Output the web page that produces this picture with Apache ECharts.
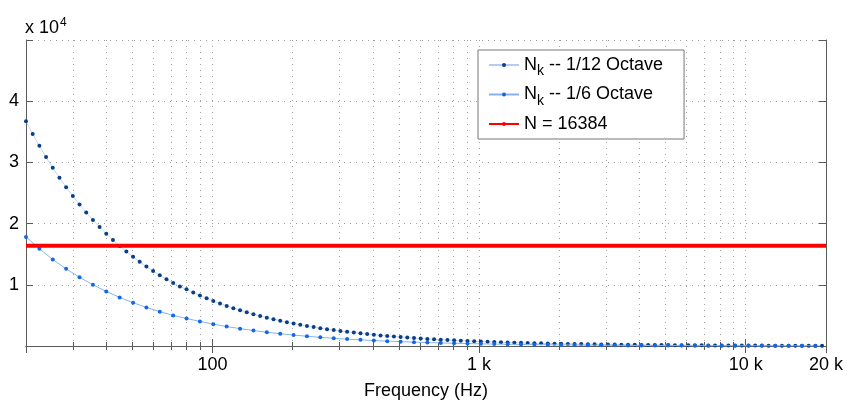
<!DOCTYPE html>
<html>
<head>
<meta charset="utf-8">
<script src="https://cdn.jsdelivr.net/npm/echarts@6/dist/echarts.min.js"></script>
<style>
  html, body { margin: 0; padding: 0; background: #fff; }
  #chart { width: 847px; height: 405px; }
</style>
</head>
<body>
<div id="chart"></div>
<script>
// Centre frequencies (Hz) of the 1/12-octave bands, 20 Hz .. 20 kHz
const freq12 = [
  20, 21.19, 22.45, 23.78, 25.2, 26.7, 28.28, 29.97, 31.75, 33.64, 35.64, 37.76,
  40, 42.38, 44.9, 47.57, 50.4, 53.39, 56.57, 59.93, 63.5, 67.27, 71.27, 75.51,
  80, 84.76, 89.8, 95.14, 100.79, 106.79, 113.14, 119.86, 126.99, 134.54, 142.54, 151.02,
  160, 169.51, 179.59, 190.27, 201.59, 213.57, 226.27, 239.73, 253.98, 269.09, 285.09, 302.04,
  320, 339.03, 359.19, 380.55, 403.17, 427.15, 452.55, 479.46, 507.97, 538.17, 570.18, 604.08,
  640, 678.06, 718.38, 761.09, 806.35, 854.3, 905.1, 958.92, 1015.9, 1076.3, 1140.4, 1208.2,
  1280, 1356.1, 1436.8, 1522.2, 1612.7, 1708.6, 1810.2, 1917.8, 2031.9, 2152.7, 2280.7, 2416.3,
  2560, 2712.2, 2873.5, 3044.4, 3225.4, 3417.2, 3620.4, 3835.7, 4063.7, 4305.4, 4561.4, 4832.6,
  5120, 5424.4, 5747, 6088.7, 6450.8, 6834.4, 7240.8, 7671.3, 8127.5, 8610.8, 9122.8, 9665.3,
  10240, 10849, 11494, 12177, 12902, 13669, 14482, 15343, 16255, 17222, 18245, 19331
];
// Window length N_k for each 1/12-octave band
const nk12 = [
  36709, 34650, 32704, 30869, 29136, 27501, 25958, 24501, 23125, 21828, 20602, 19446,
  18355, 17325, 16352, 15434, 14568, 13750, 12979, 12250, 11563, 10914, 10301, 9723,
  9270, 8750, 8259, 7795, 7358, 6945, 6555, 6187, 5840, 5512, 5203, 4911,
  4635, 4375, 4129, 3898, 3679, 3472, 3277, 3094, 2920, 2756, 2601, 2455,
  2318, 2188, 2065, 1949, 1839, 1736, 1639, 1547, 1460, 1378, 1301, 1228,
  1159, 1094, 1032, 974, 920, 868, 819, 773, 730, 689, 650, 614,
  579, 547, 516, 487, 460, 434, 410, 387, 365, 345, 325, 307,
  290, 273, 258, 244, 230, 217, 205, 193, 182, 172, 163, 153,
  145, 137, 129, 122, 115, 109, 102, 97, 91, 86, 81, 77,
  72, 68, 65, 61, 57, 54, 51, 48, 46, 43, 41, 38
];
// Centre frequencies (Hz) of the 1/6-octave bands
const freq6 = [
  20, 22.45, 25.2, 28.28, 31.75, 35.64,
  40, 44.9, 50.4, 56.57, 63.5, 71.27,
  80, 89.8, 100.79, 113.14, 126.99, 142.54,
  160, 179.59, 201.59, 226.27, 253.98, 285.09,
  320, 359.19, 403.17, 452.55, 507.97, 570.18,
  640, 718.38, 806.35, 905.1, 1015.9, 1140.4,
  1280, 1436.8, 1612.7, 1810.2, 2031.9, 2280.7,
  2560, 2873.5, 3225.4, 3620.4, 4063.7, 4561.4,
  5120, 5747, 6450.8, 7240.8, 8127.5, 9122.8,
  10240, 11494, 12902, 14482, 16255, 18245
];
// Window length N_k for each 1/6-octave band
const nk6 = [
  17824, 15880, 14147, 12604, 11229, 10003,
  8912, 7940, 7074, 6301, 5614, 5001,
  4501, 4010, 3572, 3183, 2836, 2526,
  2251, 2005, 1786, 1591, 1418, 1263,
  1125, 1003, 893, 796, 709, 632,
  563, 501, 447, 398, 354, 316,
  281, 251, 223, 199, 177, 158,
  141, 125, 112, 99, 89, 79,
  70, 63, 56, 50, 44, 39,
  35, 31, 28, 25, 22, 20
];
// Fixed FFT length across the band
const fixedFreq = [20, 20000];
const fixedN = [16384, 16384];

const seriesNames = ['Nk -- 1/12 Octave', 'Nk -- 1/6 Octave', 'N = 16384'];
const xTickLabels = { 100: '100', 1000: '1 k', 10000: '10 k', 20000: '20 k' };

const pairs = (xs, ys) => xs.map((x, i) => [x, ys[i]]);

const FONT = 'Liberation Sans, Arial, Helvetica, sans-serif';
const AXIS_COLOR = '#5a5a5a';
const gridDots = { color: '#a0a0a0', width: 1, type: [1, 5] };

const chart = echarts.init(document.getElementById('chart'), null, { renderer: 'canvas' });

const logAxisBase = {
  type: 'log',
  logBase: 10,
  min: 20,
  max: 20000,
  gridIndex: 0,
};

chart.setOption({
  animation: false,
  backgroundColor: '#ffffff',
  grid: { left: 26, right: 21, top: 40, bottom: 58, containLabel: false },
  // exponent multiplier for the y axis
  graphic: [{
    type: 'text',
    left: 25,
    top: 17,
    style: {
      text: '{a|x 10}{sup|4}',
      rich: {
        a: { fontFamily: FONT, fontSize: 18, fill: '#000', padding: [8, 0, 0, 0] },
        sup: { fontFamily: FONT, fontSize: 12, fill: '#000', padding: [0, 0, 2, 1] }
      }
    }
  }],
  legend: {
    orient: 'vertical',
    left: 478,
    top: 50,
    data: seriesNames,
    backgroundColor: '#ffffff',
    borderColor: '#777',
    borderWidth: 1,
    padding: [6, 21, 6, 10],
    itemGap: 7,
    itemWidth: 30,
    itemHeight: 5,
    textStyle: {
      fontFamily: FONT, fontSize: 18, color: '#000',
      rich: {
        n: { fontFamily: FONT, fontSize: 18, color: '#000', lineHeight: 24 },
        sub: { fontFamily: FONT, fontSize: 14, color: '#000', padding: [13, 0, 0, 0] }
      }
    },
    formatter: function (name) {
      if (name.indexOf('Nk') === 0) {
        return '{n|N}{sub|k}{n|' + name.slice(2) + '}';
      }
      return '{n|' + name + '}';
    }
  },
  xAxis: [
    Object.assign({}, logAxisBase, {
      position: 'bottom',
      name: 'Frequency (Hz)',
      nameLocation: 'middle',
      nameGap: 36,
      nameTextStyle: { fontFamily: FONT, fontSize: 18, color: '#000' },
      axisLine: { show: true, lineStyle: { color: AXIS_COLOR, width: 1 } },
      axisTick: { show: true, inside: true, length: 7, lineStyle: { color: AXIS_COLOR } },
      minorTick: { show: true, splitNumber: 9, length: 4, lineStyle: { color: AXIS_COLOR } },
      splitLine: { show: true, lineStyle: gridDots },
      minorSplitLine: { show: true, lineStyle: gridDots },
      axisLabel: {
        fontFamily: FONT, fontSize: 18, color: '#000', margin: 10,
        showMinLabel: true, showMaxLabel: true,
        formatter: v => xTickLabels[Math.round(v)] || ''
      }
    }),
    Object.assign({}, logAxisBase, {
      position: 'top',
      axisLine: { show: true, lineStyle: { color: AXIS_COLOR, width: 1 } },
      axisTick: { show: true, inside: true, length: 7, lineStyle: { color: AXIS_COLOR } },
      minorTick: { show: true, splitNumber: 9, length: 4, lineStyle: { color: AXIS_COLOR } },
      splitLine: { show: false },
      axisLabel: { show: false }
    })
  ],
  yAxis: [
    {
      type: 'value',
      min: 0,
      max: 50000,
      interval: 10000,
      position: 'left',
      axisLine: { show: true, lineStyle: { color: AXIS_COLOR, width: 1 } },
      axisTick: { show: true, inside: true, length: 7, lineStyle: { color: AXIS_COLOR } },
      splitLine: { show: true, lineStyle: gridDots },
      axisLabel: {
        fontFamily: FONT, fontSize: 18, color: '#000', margin: 7,
        formatter: v => (v === 0 || v === 50000) ? '' : String(v / 10000)
      }
    },
    {
      type: 'value',
      min: 0,
      max: 50000,
      interval: 10000,
      position: 'right',
      axisLine: { show: true, lineStyle: { color: AXIS_COLOR, width: 1 } },
      axisTick: { show: true, inside: true, length: 7, lineStyle: { color: AXIS_COLOR } },
      splitLine: { show: false },
      axisLabel: { show: false }
    }
  ],
  series: [
    {
      name: seriesNames[0],
      type: 'line',
      data: pairs(freq12, nk12),
      symbol: 'circle',
      symbolSize: 4,
      showSymbol: true,
      itemStyle: { color: '#0a3f85' },
      lineStyle: { color: '#b3cdf2', width: 0.8 },
      z: 2
    },
    {
      name: seriesNames[1],
      type: 'line',
      data: pairs(freq6, nk6),
      symbol: 'circle',
      symbolSize: 4,
      showSymbol: true,
      itemStyle: { color: '#1467e6' },
      lineStyle: { color: '#86b3f0', width: 1 },
      z: 3
    },
    {
      name: seriesNames[2],
      type: 'line',
      data: pairs(fixedFreq, fixedN),
      symbol: 'none',
      itemStyle: { color: '#ff0000' },
      lineStyle: { color: '#ff0000', width: 4 },
      z: 4
    }
  ]
});
</script>
</body>
</html>
